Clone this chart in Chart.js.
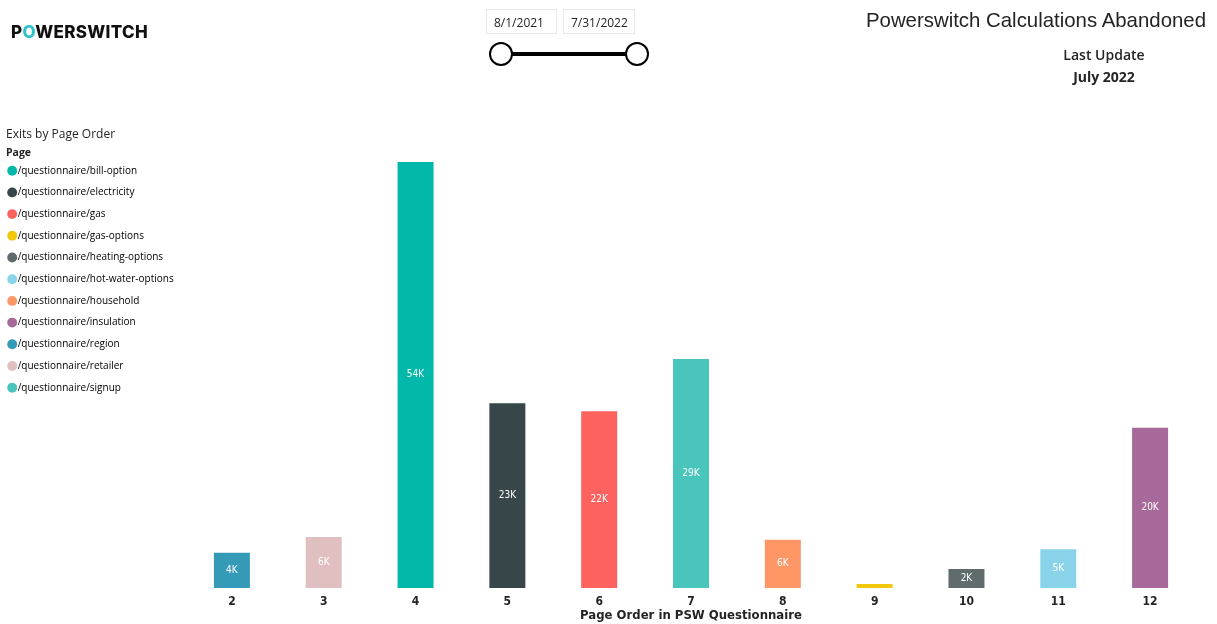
<!DOCTYPE html>
<html>
<head>
<meta charset="utf-8">
<title>Powerswitch Calculations Abandoned</title>
<script src="https://cdn.jsdelivr.net/npm/chart.js@4.4.1/dist/chart.umd.min.js"></script>
<style>
  body { margin: 0; background: #fff; }
  #page { position: relative; width: 1217px; height: 624px; overflow: hidden; }
  #page canvas { position: absolute; left: 0; top: 0; }
  .txt { position: absolute; color: #252423; white-space: nowrap; }
  #logo { left: 11px; top: 22px; font: 800 17px Inter, sans-serif; letter-spacing: 0.3px; color: #111; }
  #logo span { color: #2ec2cc; }
  .date { position: absolute; top: 9px; height: 25px; border: 1px solid #e8e8e8; font: 12px "Open Sans", sans-serif;
          color: #252423; line-height: 25px; padding-left: 7px; box-sizing: border-box; }
  #titre { right: 11px; top: 9px; font: 20.4px "Liberation Sans", Arial, sans-serif; color: #252423; }
  #maj { left: 1104px; top: 44px; transform: translateX(-50%); text-align: center; font: 600 14px "Open Sans", sans-serif; line-height: 22px; }
  #maj b { font-weight: 700; }
  #exits { left: 6px; top: 125px; font: 12px "Open Sans", sans-serif; color: #252423; }
  #pg { left: 6px; top: 145px; font: bold 10.5px "Open Sans", sans-serif; }
</style>
</head>
<body>
<div id="page">
  <canvas id="grafico"></canvas>
  <div id="logo" class="txt">P<span>O</span>WERSWITCH</div>
  <div class="date" style="left:486px;width:71px">8/1/2021</div>
  <div class="date" style="left:563px;width:72px">7/31/2022</div>
  <svg style="position:absolute;left:485px;top:40px" width="170" height="30">
    <line x1="27" y1="14" x2="141" y2="14" stroke="#000" stroke-width="4"/>
    <circle cx="16" cy="14" r="11" fill="#fff" stroke="#000" stroke-width="2"/>
    <circle cx="152" cy="14" r="11" fill="#fff" stroke="#000" stroke-width="2"/>
  </svg>
  <div id="titre" class="txt">Powerswitch Calculations Abandoned</div>
  <div id="maj" class="txt">Last Update<br><b>July 2022</b></div>
  <div id="exits" class="txt">Exits by Page Order</div>
  <div id="pg" class="txt">Page</div>
</div>
<script>
// Legenda (ordem alfabética) e cores
const paginas = [
  "/questionnaire/bill-option",
  "/questionnaire/electricity",
  "/questionnaire/gas",
  "/questionnaire/gas-options",
  "/questionnaire/heating-options",
  "/questionnaire/hot-water-options",
  "/questionnaire/household",
  "/questionnaire/insulation",
  "/questionnaire/region",
  "/questionnaire/retailer",
  "/questionnaire/signup"
];
const coresPaginas = [
  "#01B8AA", "#374649", "#FD625E", "#F2C80F", "#5F6B6D", "#8AD4EB",
  "#FE9666", "#A66999", "#3599B8", "#DFBFBF", "#4AC5BB"
];

// Ordem da página no questionário, página correspondente e saídas
const ordemPagina = ["2", "3", "4", "5", "6", "7", "8", "9", "10", "11", "12"];
const paginaDaOrdem = [
  "/questionnaire/region",
  "/questionnaire/retailer",
  "/questionnaire/bill-option",
  "/questionnaire/electricity",
  "/questionnaire/gas",
  "/questionnaire/signup",
  "/questionnaire/household",
  "/questionnaire/gas-options",
  "/questionnaire/heating-options",
  "/questionnaire/hot-water-options",
  "/questionnaire/insulation"
];
const saidas = [4450, 6450, 54000, 23400, 22400, 29000, 6100, 500, 2400, 4900, 20300];

const fonteEixo = '"DejaVu Sans Condensed", "DejaVu Sans", sans-serif';

const rotulosDados = {
  id: "rotulosDados",
  afterDatasetsDraw(chart) {
    const ctx = chart.ctx;
    const meta = chart.getDatasetMeta(0);
    ctx.save();
    ctx.font = "10px " + fonteEixo;
    ctx.fillStyle = "#ffffff";
    ctx.textAlign = "center";
    ctx.textBaseline = "middle";
    meta.data.forEach((barra, i) => {
      const altura = barra.base - barra.y;
      if (altura < 12) return;
      ctx.fillText(Math.round(saidas[i] / 1000) + "K", barra.x, (barra.y + barra.base) / 2);
    });
    ctx.restore();
  }
};

const ctx = document.getElementById("grafico").getContext("2d");
new Chart(ctx, {
  type: "bar",
  data: {
    labels: ordemPagina,
    datasets: [{
      label: "Exits",
      data: saidas,
      backgroundColor: paginaDaOrdem.map(p => coresPaginas[paginas.indexOf(p)]),
      borderWidth: 0,
      categoryPercentage: 1,
      barPercentage: 0.392
    }]
  },
  options: {
    responsive: true,
    maintainAspectRatio: false,
    animation: false,
    layout: { padding: { left: 0, right: 21, top: 154, bottom: 0.8 } },
    plugins: {
      tooltip: { enabled: false },
      legend: {
        position: "left",
        align: "start",
        labels: {
          usePointStyle: true,
          pointStyle: "circle",
          boxWidth: 1,
          boxHeight: 7,
          padding: 11.7,
          color: "#252423",
          font: { family: '"Open Sans", sans-serif', size: 10 },
          generateLabels: () => paginas.map((p, i) => ({
            text: p,
            fillStyle: coresPaginas[i],
            strokeStyle: coresPaginas[i],
            lineWidth: 0,
            pointStyle: "circle",
            hidden: false,
            index: i
          }))
        }
      }
    },
    scales: {
      x: {
        grid: { display: false, drawTicks: false },
        border: { display: false },
        ticks: {
          padding: 6.8,
          color: "#252423",
          font: { family: fonteEixo, size: 12, weight: "bold", lineHeight: 1.2 }
        },
        title: {
          display: true,
          text: "Page Order in PSW Questionnaire",
          color: "#252423",
          padding: { top: -7, bottom: 0 },
          font: { family: fonteEixo, size: 13, weight: "bold", lineHeight: 1.1 }
        }
      },
      y: {
        beginAtZero: true,
        max: 55000,
        grid: { display: false, drawTicks: false },
        border: { display: false },
        ticks: { display: false },
        afterFit(escala) {
          const larguraLegenda = escala.chart.legend ? escala.chart.legend.width : 0;
          escala.width = Math.max(0, 186 - larguraLegenda);
        }
      }
    }
  },
  plugins: [rotulosDados]
});
</script>
</body>
</html>
